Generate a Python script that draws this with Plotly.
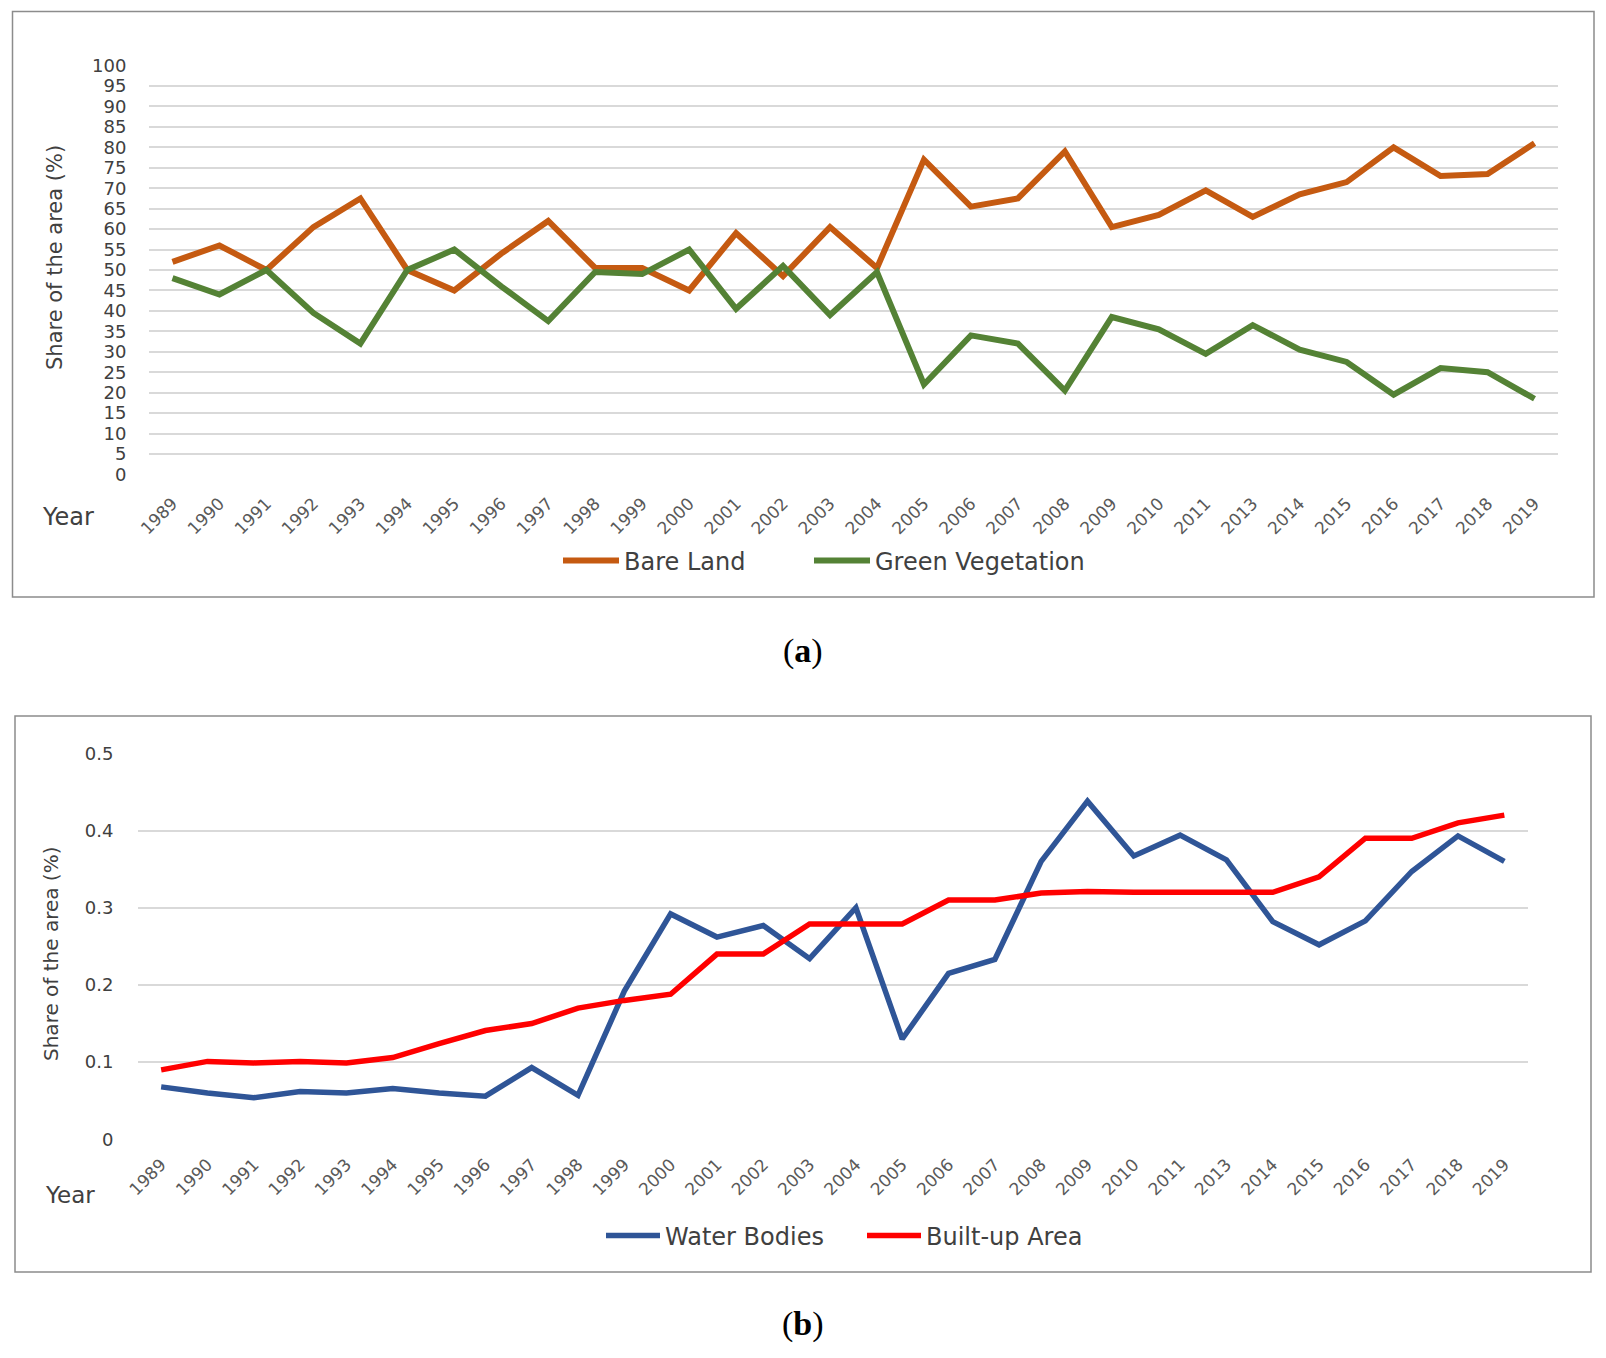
import plotly.graph_objects as go

W, H = 1606, 1358

years = ["1989", "1990", "1991", "1992", "1993", "1994", "1995", "1996", "1997", "1998",
         "1999", "2000", "2001", "2002", "2003", "2004", "2005", "2006", "2007", "2008",
         "2009", "2010", "2011", "2013", "2014", "2015", "2016", "2017", "2018", "2019"]

bare_land = [52, 56, 50, 60.5, 67.5, 50, 45, 54, 62, 50.5,
             50.5, 45, 59, 48.5, 60.5, 50.5, 77, 65.5, 67.5, 79,
             60.5, 63.5, 69.5, 63, 68.5, 71.5, 80, 73, 73.5, 81]

green_vegetation = [48, 44, 50, 39.5, 32, 50, 55, 46, 37.5, 49.5,
                    49, 55, 40.5, 51, 39, 49.5, 22, 34, 32, 20.5,
                    38.5, 35.5, 29.5, 36.5, 30.5, 27.5, 19.5, 26, 25, 18.5]

water_bodies = [0.068, 0.060, 0.054, 0.062, 0.060, 0.066, 0.060, 0.056, 0.093, 0.057,
                0.192, 0.292, 0.262, 0.277, 0.234, 0.300, 0.130, 0.215, 0.233, 0.360,
                0.438, 0.367, 0.394, 0.362, 0.282, 0.252, 0.283, 0.347, 0.393, 0.360]

built_up = [0.090, 0.101, 0.099, 0.101, 0.099, 0.106, 0.124, 0.141, 0.150, 0.170,
            0.180, 0.188, 0.240, 0.240, 0.279, 0.279, 0.279, 0.310, 0.310, 0.319,
            0.321, 0.320, 0.320, 0.320, 0.320, 0.340, 0.390, 0.390, 0.410, 0.420]

y_ticks_a = list(range(0, 101, 5))
y_ticks_b = [0, 0.1, 0.2, 0.3, 0.4, 0.5]
y_ticklabels_b = ["0", "0.1", "0.2", "0.3", "0.4", "0.5"]

FONT = "DejaVu Sans"
TXT = "#595959"
DARK = "#404040"
GRID = "#D9D9D9"


def px(x):
    return x / W


def py(y):
    return 1 - y / H


fig = go.Figure()
fig.add_trace(go.Scatter(x=years, y=bare_land, name="Bare Land", mode="lines",
                         line=dict(color="#C55A11", width=6), xaxis="x", yaxis="y",
                         legend="legend"))
fig.add_trace(go.Scatter(x=years, y=green_vegetation, name="Green Vegetation", mode="lines",
                         line=dict(color="#548235", width=6), xaxis="x", yaxis="y",
                         legend="legend3"))
fig.add_trace(go.Scatter(x=years, y=water_bodies, name="Water Bodies", mode="lines",
                         line=dict(color="#2F5597", width=5.5), xaxis="x2", yaxis="y2",
                         legend="legend2"))
fig.add_trace(go.Scatter(x=years, y=built_up, name="Built-up Area", mode="lines",
                         line=dict(color="#FF0000", width=5.5), xaxis="x2", yaxis="y2",
                         legend="legend4"))

xcommon = dict(type="category", categoryorder="array", categoryarray=years,
               range=[-0.5, len(years) - 0.5],
               tickangle=-45, showgrid=False, zeroline=False, showline=False,
               ticks="outside", tickcolor="rgba(0,0,0,0)", automargin=False,
               tickfont=dict(family=FONT, size=17, color=TXT), fixedrange=True)

ycommon = dict(showgrid=True, gridcolor=GRID, gridwidth=1.5, zeroline=False,
               showline=False, ticks="outside", tickcolor="rgba(0,0,0,0)",
               automargin=False, fixedrange=True,
               tickfont=dict(family=FONT, size=18, color=DARK))


def leg(x, y, w):
    return dict(orientation="h", x=px(x), xanchor="left", y=py(y), yanchor="middle",
                font=dict(family=FONT, size=24, color=DARK), bgcolor="rgba(0,0,0,0)",
                itemwidth=w)


fig.update_layout(
    width=W, height=H,
    margin=dict(l=0, r=0, t=0, b=0, autoexpand=False),
    paper_bgcolor="white", plot_bgcolor="white",
    font=dict(family=FONT, color=TXT),
    xaxis=dict(domain=[px(149), px(1558)], anchor="y", ticklen=11, **xcommon),
    yaxis=dict(domain=[py(475), py(65)], anchor="x", range=[-0.15, 100.15],
               tickvals=y_ticks_a, ticklen=18, **ycommon),
    xaxis2=dict(domain=[px(138), px(1527.5)], anchor="y2", ticklen=7, **xcommon),
    yaxis2=dict(domain=[py(1140), py(752.7)], anchor="x2", range=[-0.0008, 0.5008],
                tickvals=y_ticks_b, ticktext=y_ticklabels_b, ticklen=20, **ycommon),
    legend=leg(558, 561, 56),
    legend3=leg(809, 561, 56),
    legend2=leg(601, 1236, 54),
    legend4=leg(862, 1236, 54),
    showlegend=True,
)

# panel frames
fig.add_shape(type="rect", xref="paper", yref="paper",
              x0=px(12.5), x1=px(1594), y0=py(597), y1=py(11.5),
              line=dict(color="#8C8C8C", width=1.5), layer="below")
fig.add_shape(type="rect", xref="paper", yref="paper",
              x0=px(15), x1=px(1591), y0=py(1272), y1=py(716),
              line=dict(color="#8C8C8C", width=1.5), layer="below")

# y-axis titles
fig.add_annotation(text="Share of the area (%)", xref="paper", yref="paper",
                   x=px(55), y=py(258), textangle=-90, showarrow=False,
                   font=dict(family=FONT, size=21, color=DARK),
                   xanchor="center", yanchor="middle")
fig.add_annotation(text="Share of the area (%)", xref="paper", yref="paper",
                   x=px(51), y=py(954), textangle=-90, showarrow=False,
                   font=dict(family=FONT, size=20, color=DARK),
                   xanchor="center", yanchor="middle")

# "Year" labels
fig.add_annotation(text="Year", xref="paper", yref="paper", x=px(40), y=py(517),
                   xanchor="left", yanchor="middle", showarrow=False,
                   font=dict(family=FONT, size=24, color=DARK))
fig.add_annotation(text="Year", xref="paper", yref="paper", x=px(43), y=py(1195),
                   xanchor="left", yanchor="middle", showarrow=False,
                   font=dict(family=FONT, size=23, color=DARK))

# captions
fig.add_annotation(text="(<b>a</b>)", xref="paper", yref="paper", x=px(803), y=py(651),
                   xanchor="center", yanchor="middle", showarrow=False,
                   font=dict(family="Liberation Serif", size=34, color="black"))
fig.add_annotation(text="(<b>b</b>)", xref="paper", yref="paper", x=px(803), y=py(1324),
                   xanchor="center", yanchor="middle", showarrow=False,
                   font=dict(family="Liberation Serif", size=34, color="black"))

fig.write_html("out.html", config={"displayModeBar": False},
               post_script="document.body.style.margin='0';document.body.style.overflow='hidden';")
